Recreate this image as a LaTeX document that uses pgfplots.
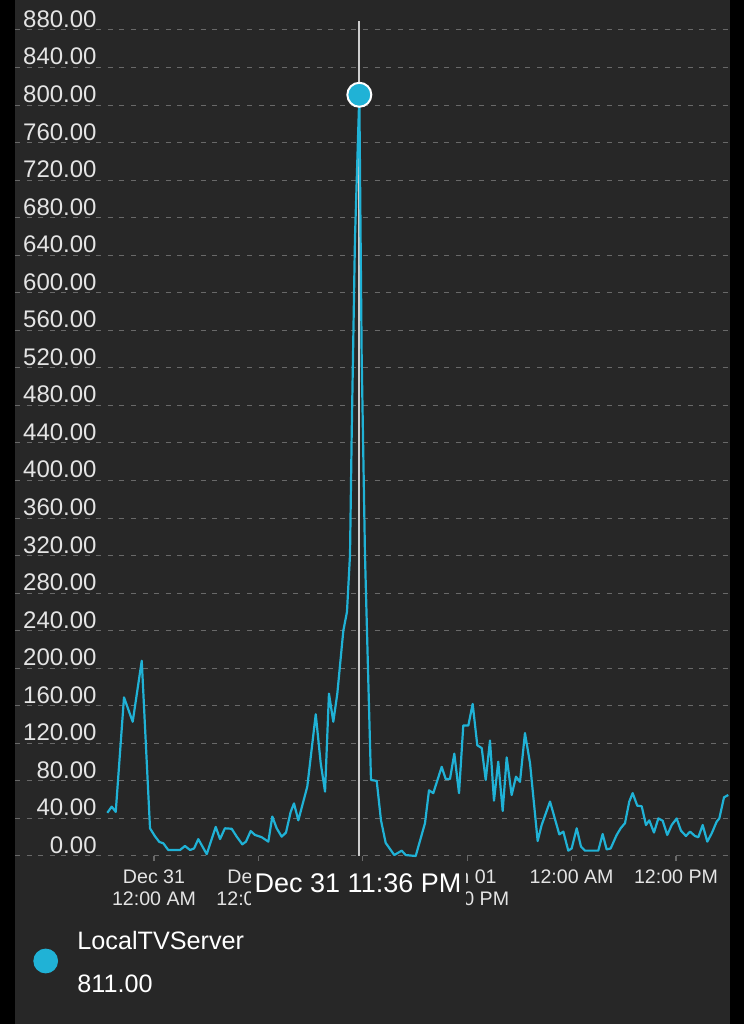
\documentclass[border=0pt]{standalone}
\usepackage{fontspec}
\setmainfont{Liberation Sans}
\usepackage{pgfplots}
\pgfplotsset{compat=1.18}

\definecolor{panel}{RGB}{39,39,39}
\definecolor{lineblue}{RGB}{32,178,214}
\definecolor{gridgray}{RGB}{105,105,105}
\definecolor{ticktext}{RGB}{228,228,228}
\definecolor{cursorgray}{RGB}{205,205,205}

% x is hours after Dec 31 12:00 AM
\begin{document}
\begin{tikzpicture}
\useasboundingbox (0,0) rectangle (372pt,512pt);
\fill[black] (0,0) rectangle (372pt,512pt);
\fill[panel] (7.5pt,0) rectangle (365pt,512pt);

\begin{axis}[
    at={(7.5pt,84pt)}, anchor=south west,
    scale only axis, width=357.5pt, height=413pt,
    xmin=-15.98, xmax=66.21, ymin=0, ymax=880,
    clip=false,
    axis line style={draw=none},
    tick align=outside,
    major tick length=2.5pt,
    xtick pos=lower, ytick pos=left,
    ytick={0,40,...,880},
    ymajorgrids,
    grid style={gridgray, line width=0.5pt, dash pattern=on 2.5pt off 3.3pt},
    ytick style={draw=none},
    xtick style={gridgray, line width=0.6pt},
    xtick={0,12,24,36,48,60},
    xticklabels={Dec 31\\12:00 AM, Dec 31\\12:00 PM, Jan 01\\12:00 AM,
                 Jan 01\\12:00 PM, 12:00 AM, 12:00 PM},
    xticklabel style={align=center, text=ticktext, yshift=-0.7pt,
        font=\fontsize{9.8}{11}\selectfont},
    /pgf/number format/assume math mode=true,
    yticklabel style={anchor=south east, inner sep=0pt, xshift=43.5pt, yshift=1pt,
        text=ticktext, font=\fontsize{12}{14}\selectfont,
        /pgf/number format/fixed, /pgf/number format/fixed zerofill,
        /pgf/number format/precision=2, /pgf/number format/1000 sep={}},
]
% cursor line
\addplot[cursorgray, line width=1pt, forget plot] coordinates {(23.6,0) (23.6,890)};

\addplot[lineblue, line width=1.1pt, mark=none, line join=round] coordinates {
(-5.37,46) (-4.86,52.6) (-4.40,47) (-3.45,169) (-2.45,143) (-1.41,208)
(-0.46,29.5) (0.11,21) (0.61,15) (1.07,13.5) (1.64,6.4) (2.99,6.4)
(3.56,10.7) (4.14,6.4) (4.60,8) (5.09,18) (6.06,2) (7.09,31) (7.59,18)
(8.15,29.5) (8.93,29) (9.51,20.6) (10.15,12.4) (10.57,15.3) (11.11,26.6)
(11.61,22.4) (12.38,20) (13.14,15.3) (13.60,42) (14.10,29.5) (14.68,20.6)
(15.17,25) (15.71,47) (16.09,56) (16.59,38) (17.62,74) (18.59,151)
(19.16,99) (19.66,68.6) (20.11,173) (20.61,143) (21.07,173) (21.76,240)
(22.18,260) (22.53,321) (22.72,447) (23.10,658) (23.6,811) (23.87,532)
(24.25,321) (24.63,187.5) (24.94,81) (25.60,80) (26.09,38) (26.63,14)
(27.62,1) (28.47,5.7) (28.93,1) (30.08,0) (31.15,35) (31.61,70)
(32.10,67) (33.07,95) (33.53,82) (34.02,82) (34.52,109) (35.06,67)
(35.55,139) (36.13,139) (36.63,162) (37.16,118) (37.67,115) (38.13,81)
(38.62,123) (39.08,59) (39.57,100.5) (40.08,48) (40.54,105) (41.11,65)
(41.61,84.5) (42.07,79) (42.64,131) (43.22,99) (44.10,16) (44.56,33)
(45.52,58) (46.59,23) (47.05,26) (47.62,5.7) (48.01,8) (48.59,29.5)
(49.08,10) (49.54,5.7) (51.07,5.7) (51.57,23.4) (52.03,7) (52.49,8)
(53.18,22.4) (53.64,29.5) (54.14,35) (54.63,58) (55.02,67) (55.55,53.6)
(56.06,53) (56.55,33) (56.93,38) (57.47,25) (57.97,40) (58.47,37.6)
(59.00,22.4) (59.51,33) (60.08,40) (60.57,27) (61.15,21.3) (61.61,26)
(62.18,21.3) (62.57,20) (63.07,33) (63.60,15.3) (64.10,24) (64.68,36.6)
(64.98,40) (65.52,62.5) (66.01,65)
};

% selected point
\addplot[only marks, mark=*, mark size=6pt,
    mark options={fill=lineblue, draw=white, line width=1pt}] coordinates {(23.6,811)};
\end{axis}

% cursor time label over the tick labels
\fill[panel] (125.5pt,80pt) rectangle (233pt,54pt);
\node[anchor=base, inner sep=0pt, text=white, font=\fontsize{13.5}{15}\selectfont]
    at (179pt,65.5pt) {Dec 31 11:36 PM};

% legend
\fill[lineblue] (22.85pt,31.5pt) circle (6.2pt);
\node[anchor=base west, inner sep=0pt, text=white, font=\fontsize{12.6}{14}\selectfont]
    at (38.5pt,37pt) {LocalTVServer};
\node[anchor=base west, inner sep=0pt, text=white, font=\fontsize{12.6}{14}\selectfont]
    at (38.5pt,16pt) {811.00};
\end{tikzpicture}
\end{document}
